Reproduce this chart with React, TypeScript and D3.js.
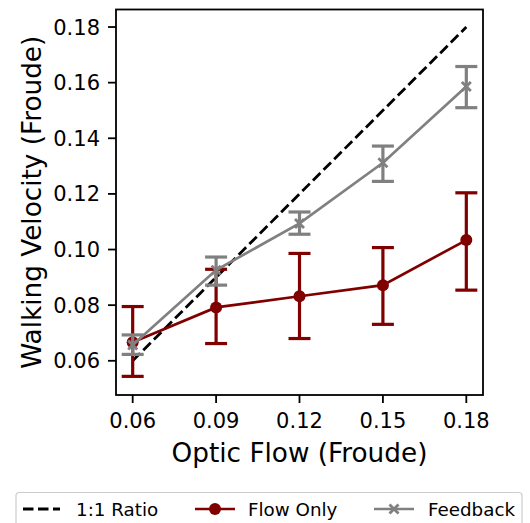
import React from "react";
import * as d3 from "d3";

const flowLevels = [0.06, 0.09, 0.12, 0.15, 0.18];
const flowOnlyMean = [0.0667, 0.0792, 0.0832, 0.0872, 0.1034];
const flowOnlyLow = [0.0544, 0.0662, 0.068, 0.0731, 0.0854];
const flowOnlyHigh = [0.0795, 0.0929, 0.0986, 0.1007, 0.1204];
const feedbackMean = [0.0657, 0.0926, 0.1094, 0.1312, 0.1586];
const feedbackLow = [0.0623, 0.0872, 0.1055, 0.1245, 0.151];
const feedbackHigh = [0.0693, 0.0973, 0.1135, 0.1372, 0.1658];
const ratioLine = [0.06, 0.18];
const xTicks = [0.06, 0.09, 0.12, 0.15, 0.18];
const yTicks = [0.06, 0.08, 0.1, 0.12, 0.14, 0.16, 0.18];
const legendLabels = ["1:1 Ratio", "Flow Only", "Feedback"];

const RED = "#800000";
const GREY = "#808080";
const FONT = "DejaVu Sans, sans-serif";

export default function App() {
  const left = 116, right = 483, top = 9.5, bottom = 395;
  const x = d3.scaleLinear().domain([0.054, 0.186]).range([left, right]);
  const y = d3.scaleLinear().domain([0.0477, 0.1863]).range([bottom, top]);
  const line = d3
    .line<[number, number]>()
    .x((d) => x(d[0]))
    .y((d) => y(d[1]));
  const cap = 11;

  const errBars = (lo: number[], hi: number[], color: string) =>
    flowLevels.map((f, i) => (
      <g key={i} stroke={color} strokeWidth={3.2} fill="none">
        <line x1={x(f)} x2={x(f)} y1={y(lo[i])} y2={y(hi[i])} />
        <line x1={x(f) - cap} x2={x(f) + cap} y1={y(lo[i])} y2={y(lo[i])} />
        <line x1={x(f) - cap} x2={x(f) + cap} y1={y(hi[i])} y2={y(hi[i])} />
      </g>
    ));

  const xMark = (cx: number, cy: number, key: any) => (
    <g key={key} stroke={GREY} strokeWidth={2.8}>
      <line x1={cx - 4.5} y1={cy - 4.5} x2={cx + 4.5} y2={cy + 4.5} />
      <line x1={cx - 4.5} y1={cy + 4.5} x2={cx + 4.5} y2={cy - 4.5} />
    </g>
  );

  const legY = 509;

  return (
    <svg
      width={530}
      height={523}
      style={{ position: "absolute", left: 0, top: 0, background: "#fff" }}
      fontFamily={FONT}
    >
      <rect x={0} y={0} width={530} height={523} fill="#fff" />
      {/* 1:1 line */}
      <path
        d={line(ratioLine.map((v) => [v, v]) as [number, number][]) || ""}
        stroke="#000"
        strokeWidth={2.8}
        strokeDasharray="10.5 4.5"
        fill="none"
      />
      {/* Flow only */}
      {errBars(flowOnlyLow, flowOnlyHigh, RED)}
      <path
        d={line(flowLevels.map((f, i) => [f, flowOnlyMean[i]]) as [number, number][]) || ""}
        stroke={RED}
        strokeWidth={2.7}
        fill="none"
      />
      {flowLevels.map((f, i) => (
        <circle key={i} cx={x(f)} cy={y(flowOnlyMean[i])} r={6} fill={RED} />
      ))}
      {/* Feedback */}
      {errBars(feedbackLow, feedbackHigh, GREY)}
      <path
        d={line(flowLevels.map((f, i) => [f, feedbackMean[i]]) as [number, number][]) || ""}
        stroke={GREY}
        strokeWidth={2.7}
        fill="none"
      />
      {flowLevels.map((f, i) => xMark(x(f), y(feedbackMean[i]), i))}

      {/* frame */}
      <rect x={left} y={top} width={right - left} height={bottom - top} fill="none" stroke="#000" strokeWidth={1.8} />

      {/* x ticks */}
      {xTicks.map((t) => (
        <g key={t}>
          <line x1={x(t)} x2={x(t)} y1={bottom} y2={bottom + 8} stroke="#000" strokeWidth={1.8} />
          <text x={x(t)} y={427.5} textAnchor="middle" fontSize={21} fill="#000">
            {t.toFixed(2)}
          </text>
        </g>
      ))}
      {/* y ticks */}
      {yTicks.map((t) => (
        <g key={t}>
          <line x1={left - 8} x2={left} y1={y(t)} y2={y(t)} stroke="#000" strokeWidth={1.8} />
          <text x={100} y={y(t)} dy="0.36em" textAnchor="end" fontSize={21} fill="#000">
            {t.toFixed(2)}
          </text>
        </g>
      ))}
      <text x={(left + right) / 2} y={461.5} textAnchor="middle" fontSize={26.3} fill="#000">
        Optic Flow (Froude)
      </text>
      <text
        transform={`translate(41,${(top + bottom) / 2}) rotate(-90)`}
        textAnchor="middle"
        fontSize={26.3}
        fill="#000"
      >
        Walking Velocity (Froude)
      </text>

      {/* legend */}
      <rect x={16} y={492.5} width={506} height={50} rx={3} fill="#fff" fillOpacity={0.8} stroke="#cccccc" strokeWidth={1.2} />
      <line x1={23} x2={60} y1={legY} y2={legY} stroke="#000" strokeWidth={2.8} strokeDasharray="10.5 4.5" />
      <text x={76} y={legY} dy="0.36em" fontSize={18.3} fill="#000">{legendLabels[0]}</text>
      <line x1={195} x2={235} y1={legY} y2={legY} stroke={RED} strokeWidth={2.7} />
      <circle cx={215} cy={legY} r={6} fill={RED} />
      <text x={248} y={legY} dy="0.36em" fontSize={18.3} fill="#000">{legendLabels[1]}</text>
      <line x1={374} x2={414} y1={legY} y2={legY} stroke={GREY} strokeWidth={2.7} />
      {xMark(394, legY, "leg")}
      <text x={428} y={legY} dy="0.36em" fontSize={18.3} fill="#000">{legendLabels[2]}</text>
    </svg>
  );
}
